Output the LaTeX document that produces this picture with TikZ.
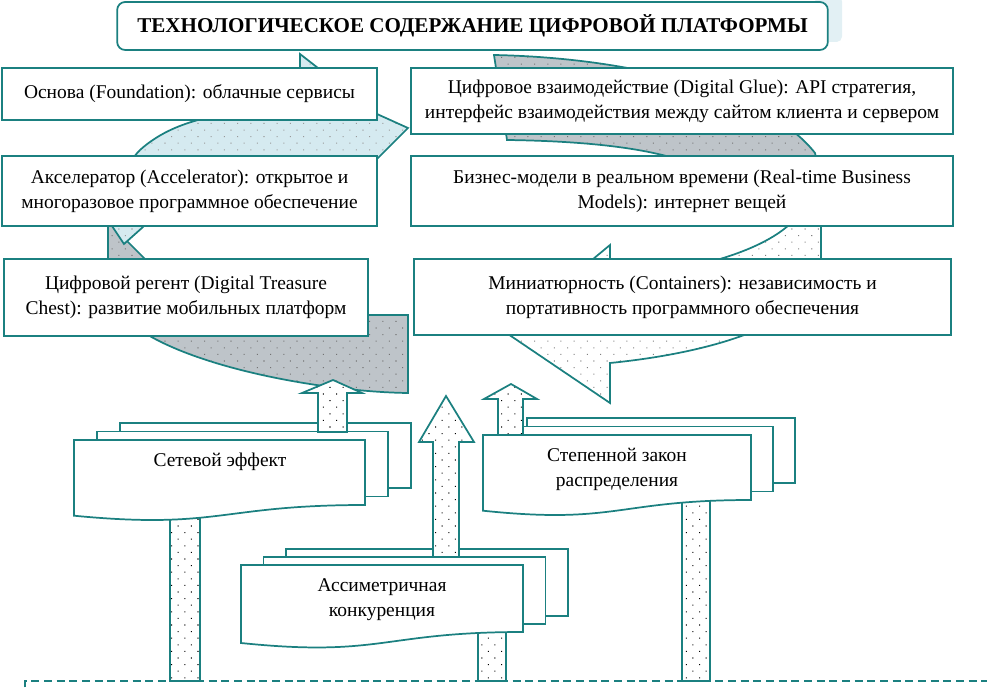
\documentclass[tikz,border=0pt]{standalone}
\usepackage{fontspec}
\setmainfont{Liberation Serif}
\usetikzlibrary{patterns.meta}

\definecolor{tealc}{RGB}{27,128,128}
\definecolor{cycblue}{RGB}{213,234,240}
\definecolor{cycgray}{RGB}{190,196,201}
\definecolor{shadowblue}{RGB}{226,240,244}

\begin{document}
\begin{tikzpicture}[
  x=0.75pt, y=-0.75pt,
  font=\fontsize{14.6}{18.75}\selectfont,
  tline/.style={draw=tealc, line width=1.3pt},
  box/.style={tline, fill=white, align=center, inner sep=0pt},
  dotfill/.style={pattern={Dots[distance=7pt, radius=0.55pt, angle=45]}, pattern color=#1},
  blueseg/.style={tline, preaction={fill=cycblue}, dotfill=black!40},
  grayseg/.style={tline, preaction={fill=cycgray}, dotfill=black!55},
  whiteseg/.style={tline, preaction={fill=white}, dotfill=black!50},
  blockarr/.style={tline, preaction={fill=white}, dotfill=black},
  sheet/.style={tline, fill=white},
  lbl/.style={align=center, inner sep=0pt},
]
\useasboundingbox (0,0) rectangle (987,691);

%% ── title shadow ─────────────────────────────────────────────────
\fill[shadowblue, rounded corners=4pt] (815,-4) rectangle (842,42);

%% ═══ CYCLE behind the boxes ═════════════════════════════════════
% left, going up (gray)
\path[grayseg] (408,315) -- (408,393)
  .. controls (330,392) and (200,370) .. (140,330)
  .. controls (115,305) and (108,280) .. (108,259)
  -- (108,222) -- (175,289) -- (210,300)
  .. controls (260,312) and (320,315) .. (368,315) -- cycle;

% bottom, going left (white)
\path[whiteseg] (800,210) -- (821,210) -- (821,265)
  .. controls (818,320) and (720,352) .. (610,363)
  -- (610,403) -- (505,332) -- (610,245) -- (610,259) -- (720,259)
  .. controls (750,250) and (775,238) .. (790,224) -- cycle;

% right, going down (gray)
\path[grayseg] (494,55)
  .. controls (640,58) and (770,95) .. (815,153)
  -- (825,200) -- (790,222) -- (700,195) -- (680,160)
  .. controls (640,147) and (580,141) .. (507,140) -- cycle;

% top, going right (blue)
\path[blueseg] (124,244) -- (112,226)
  .. controls (116,190) and (125,165) .. (140,150)
  .. controls (160,132) and (185,122) .. (215,116)
  -- (300,104) -- (300,54) -- (377,114) -- (408,128) -- (372,164)
  -- (300,175) -- (150,215) -- (143,227) -- cycle;

%% ── left column ──────────────────────────────────────────────────
\node[box, minimum width=281.25pt, minimum height=39pt] (found) at (189.5,94)
  {Основа (Foundation): облачные сервисы};
\node[box, minimum width=281.25pt, minimum height=52.5pt] (accel) at (189.5,191)
  {Акселератор (Accelerator): открытое и\\многоразовое программное обеспечение};
\node[box, minimum width=273pt, minimum height=57.75pt] (regent) at (186,297.5)
  {Цифровой регент (Digital Treasure\\Chest): развитие мобильных платформ};

%% ── right column ─────────────────────────────────────────────────
\node[box, minimum width=406.5pt, minimum height=49.5pt] (glue) at (682,101)
  {Цифровое взаимодействие (Digital Glue): API стратегия,\\интерфейс взаимодействия между сайтом клиента и сервером};
\node[box, minimum width=406.5pt, minimum height=52.5pt] (realtime) at (682,191)
  {Бизнес-модели в реальном времени (Real-time Business\\Models): интернет вещей};
\node[box, minimum width=402.75pt, minimum height=57pt] (contain) at (682.5,297)
  {Миниатюрность (Containers): независимость и\\портативность программного обеспечения};

%% ── title ────────────────────────────────────────────────────────
\node[box, rounded corners=6pt, minimum width=533pt, minimum height=36pt,
      font=\fontsize{15.8}{19}\selectfont\bfseries] (title) at (472.5,26)
  {ТЕХНОЛОГИЧЕСКОЕ СОДЕРЖАНИЕ ЦИФРОВОЙ ПЛАТФОРМЫ};

%% ═══ BOTTOM: factor stacks ══════════════════════════════════════
% shafts from below
\path[blockarr] (170,505) rectangle (200,681);
\path[blockarr] (478,630) rectangle (506,681);
\path[blockarr] (682,495) rectangle (710,681);

% Network effect
\path[sheet] (120,423) rectangle (411,488);
\path[sheet] (97,431.5) rectangle (388,496.5);
\path[sheet] (74,440) -- (365,440) -- (365,505)
  .. controls (219.5,505) and (219.5,529.7) .. (74,515.7) -- cycle;
\node[lbl] (net) at (220,462) {Сетевой эффект};

% Asymmetric competition
\path[sheet] (286,549) rectangle (568,616);
\path[sheet] (263.5,557) rectangle (545.5,624);
\path[sheet] (241,565) -- (523,565) -- (523,632)
  .. controls (382,632) and (382,657.5) .. (241,643) -- cycle;
\node[lbl] (asym) at (382,600) {Ассиметричная\\конкуренция};

% Power law
\path[sheet] (527,418) rectangle (795,483);
\path[sheet] (505,426.5) rectangle (773,491.5);
\path[sheet] (483,435) -- (751,435) -- (751,500)
  .. controls (617,500) and (617,524.7) .. (483,510.7) -- cycle;
\node[lbl] (power) at (617,469) {Степенной закон\\распределения};

%% arrows up into the cycle
\path[blockarr] (318,432) -- (318,393) -- (302,393) -- (333,380)
  -- (362,393) -- (347,393) -- (347,432) -- cycle;
\path[blockarr] (433,557) -- (433,442) -- (419,442) -- (446,396)
  -- (474,442) -- (459,442) -- (459,557) -- cycle;
\path[blockarr] (498,435) -- (498,399) -- (484,399) -- (511,384)
  -- (537,399) -- (523,399) -- (523,435) -- cycle;

%% ── dashed frame below ───────────────────────────────────────────
\draw[tealc, line width=1.3pt, dash pattern=on 6pt off 3.5pt]
  (25,700) -- (25,681) -- (1000,681);

\end{tikzpicture}
\end{document}
